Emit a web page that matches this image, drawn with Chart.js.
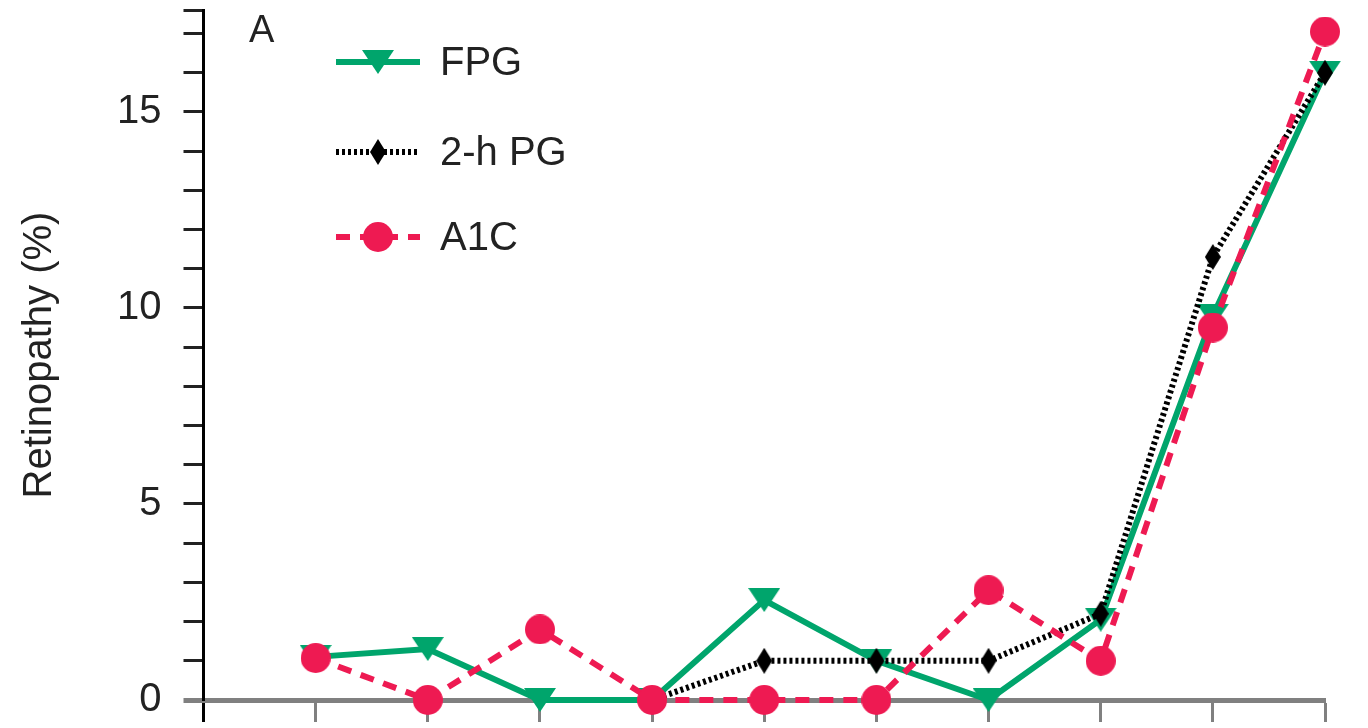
<!DOCTYPE html>
<html>
<head>
<meta charset="utf-8">
<script src="https://cdn.jsdelivr.net/npm/chart.js@4.4.0/dist/chart.umd.min.js"></script>
<style>
  html, body { margin: 0; padding: 0; background: #fff; }
  #wrap { width: 1368px; height: 728px; }
</style>
</head>
<body>
<div id="wrap"><canvas id="chart"></canvas></div>
<script>
// groups along x (first slot is the empty origin position)
const groups = ['', '1', '2', '3', '4', '5', '6', '7', '8', '9', '10'];
const fpg  = [null, 1.1, 1.3, 0, 0, 2.55, 1.0, 0, 2.05, 9.8, 16.0];
const pg2h = [null, null, null, null, 0, 1.0, 1.0, 1.0, 2.2, 11.3, 16.0];
const a1c  = [null, 1.07, 0, 1.8, 0, 0, 0, 2.8, 1.0, 9.5, 17.05];
const yTicks = [0, 1, 2, 3, 4, 5, 6, 7, 8, 9, 10, 11, 12, 13, 14, 15, 16, 17, 17.6];
const yLabels = [0, 5, 10, 15];

const GREEN = '#00a56c';
const RED = '#ee1a52';
const BLACK = '#000000';

// small canvases used as marker shapes
function marker(kind, color) {
    const c = document.createElement('canvas');
    const ctx = c.getContext('2d');
    if (kind === 'tri') {
        c.width = 32; c.height = 24;
        ctx.beginPath();
        ctx.moveTo(0, 0); ctx.lineTo(32, 0); ctx.lineTo(16, 24);
    } else if (kind === 'dia') {
        c.width = 16; c.height = 26;
        ctx.beginPath();
        ctx.moveTo(8, 0); ctx.lineTo(16, 13); ctx.lineTo(8, 26); ctx.lineTo(0, 13);
    } else {
        c.width = 30; c.height = 30;
        ctx.beginPath();
        ctx.arc(15, 15, 15, 0, Math.PI * 2);
    }
    ctx.closePath();
    ctx.fillStyle = color;
    ctx.fill();
    return c;
}

const triMark = marker('tri', GREEN);
const diaMark = marker('dia', BLACK);
const dotMark = marker('dot', RED);

// legend drawn inside the plot, line sample + marker
const insideLegend = {
    id: 'insideLegend',
    afterDatasetsDraw(chart) {
        const ctx = chart.ctx;
        const rows = [62, 152, 237];
        ctx.save();
        chart.data.datasets.forEach((ds, i) => {
            const y = rows[i];
            ctx.beginPath();
            ctx.setLineDash(ds.borderDash || []);
            ctx.lineWidth = ds.borderWidth;
            ctx.strokeStyle = ds.borderColor;
            ctx.moveTo(336, y);
            ctx.lineTo(420, y);
            ctx.stroke();
            ctx.setLineDash([]);
            const m = ds.pointStyle;
            ctx.drawImage(m, 378 - m.width / 2, y - m.height / 2);
            ctx.fillStyle = '#222';
            ctx.font = '40px "Liberation Sans", Arial, sans-serif';
            ctx.textBaseline = 'middle';
            ctx.textAlign = 'left';
            ctx.fillText(ds.label, 440, y + 2);
        });
        ctx.font = '38px "Liberation Sans", Arial, sans-serif';
        ctx.fillText('A', 249, 32);
        ctx.restore();
    }
};

new Chart(document.getElementById('chart'), {
    type: 'line',
    data: {
        labels: groups,
        datasets: [
            {
                label: 'FPG',
                data: fpg,
                borderColor: GREEN,
                backgroundColor: GREEN,
                borderWidth: 6,
                pointStyle: triMark,
                order: 3,
                clip: false
            },
            {
                label: '2-h PG',
                data: pg2h,
                borderColor: BLACK,
                backgroundColor: BLACK,
                borderWidth: 6,
                borderDash: [3, 3],
                pointStyle: diaMark,
                order: 2,
                clip: false
            },
            {
                label: 'A1C',
                data: a1c,
                borderColor: RED,
                backgroundColor: RED,
                borderWidth: 6,
                borderDash: [14, 10],
                pointStyle: dotMark,
                order: 1,
                clip: false
            }
        ]
    },
    options: {
        responsive: true,
        maintainAspectRatio: false,
        animation: false,
        layout: { padding: { left: 16, right: 43, top: 10, bottom: 6 } },
        plugins: {
            legend: { display: false },
            tooltip: { enabled: false }
        },
        scales: {
            x: {
                offset: false,
                border: { color: '#808080', width: 5 },
                grid: {
                    drawOnChartArea: false,
                    tickLength: 22,
                    tickWidth: 3,
                    tickColor: (c) => (c.index === 0 ? BLACK : '#808080')
                },
                ticks: { display: false },
                afterFit: (s) => {
                    s.height = 22;
                    s.paddingLeft = 0;
                    s.paddingRight = 0;
                }
            },
            y: {
                min: 0,
                max: 17.6,
                border: { color: BLACK, width: 3 },
                afterBuildTicks: (axis) => {
                    axis.ticks = yTicks.map(v => ({ value: v }));
                },
                afterFit: (s) => {
                    s.paddingTop = 0;
                    s.paddingBottom = 0;
                },
                grid: {
                    drawOnChartArea: false,
                    tickLength: 20,
                    tickWidth: (c) => (c.tick && c.tick.value === 0 ? 5 : 3),
                    tickColor: (c) => (c.tick && c.tick.value === 0 ? '#808080' : '#222')
                },
                ticks: {
                    autoSkip: false,
                    padding: 22,
                    color: '#222',
                    font: { family: '"Liberation Sans", Arial, sans-serif', size: 40 },
                    callback: (v) => (yLabels.includes(v) ? v : '')
                },
                title: {
                    display: true,
                    text: 'Retinopathy (%)',
                    color: '#222',
                    padding: { top: 0, bottom: 31 },
                    font: { family: '"Liberation Sans", Arial, sans-serif', size: 40 }
                }
            }
        }
    },
    plugins: [insideLegend]
});
</script>
</body>
</html>
